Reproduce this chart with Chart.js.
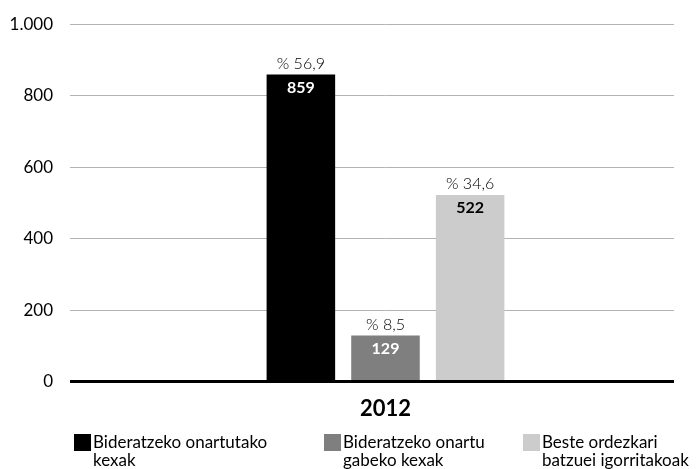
<!DOCTYPE html>
<html>
<head>
<meta charset="utf-8">
<script src="https://cdn.jsdelivr.net/npm/chart.js@4"></script>
<style>
    html, body { margin: 0; padding: 0; background: #fff; overflow: hidden; }
    #wrap { position: relative; width: 696px; height: 469px; }
    #chart { position: absolute; left: 0; top: -3px; }
    .legend-item { position: absolute; top: 434px; font-family: Lato, sans-serif; font-size: 17px; line-height: 18px; color: #000; }
    .legend-item .box { position: absolute; left: 0; top: 0; width: 17px; height: 17px; }
    .legend-item .txt { position: absolute; left: 19px; top: -1px; white-space: nowrap; }
</style>
</head>
<body>
<div id="wrap">
    <canvas id="chart" width="696" height="469"></canvas>
    <div id="legend"></div>
</div>
<script>
    // Datos del gráfico
    const categories = ['2012'];
    const seriesNames = [
        ['Bideratzeko onartutako', 'kexak'],
        ['Bideratzeko onartu', 'gabeko kexak'],
        ['Beste ordezkari', 'batzuei igorritakoak']
    ];
    const seriesValues = [859, 129, 522];
    const seriesPercents = ['% 56,9', '% 8,5', '% 34,6'];
    const seriesColors = ['#000000', '#7f7f7f', '#cccccc'];
    const innerTextColors = ['#ffffff', '#ffffff', '#000000'];
    const yTicks = [0, 200, 400, 600, 800, 1000];

    const legendX = [74, 324, 523];

    // Leyenda en HTML (textos en dos líneas)
    const legendEl = document.getElementById('legend');
    seriesNames.forEach((lines, i) => {
        const item = document.createElement('div');
        item.className = 'legend-item';
        item.style.left = legendX[i] + 'px';
        item.innerHTML = '<div class="box" style="background:' + seriesColors[i] + '"></div>' +
            '<div class="txt">' + lines.join('<br>') + '</div>';
        legendEl.appendChild(item);
    });

    // Etiquetas sobre y dentro de las barras
    const barLabels = {
        id: 'barLabels',
        afterDatasetsDraw(chart) {
            const ctx = chart.ctx;
            ctx.save();
            ctx.textAlign = 'center';
            chart.data.datasets.forEach((ds, i) => {
                const bar = chart.getDatasetMeta(i).data[0];
                if (!bar) return;
                ctx.font = '300 16px Lato, sans-serif';
                ctx.fillStyle = '#000';
                ctx.textBaseline = 'bottom';
                ctx.fillText(seriesPercents[i], bar.x, bar.y - 3);
                ctx.font = 'bold 16px Lato, sans-serif';
                ctx.fillStyle = innerTextColors[i];
                ctx.textBaseline = 'middle';
                ctx.fillText(String(ds.data[0]), bar.x, bar.y + 13);
            });
            ctx.restore();
        }
    };

    const fmt = v => v >= 1000 ? v.toLocaleString('de-DE') : String(v);

    new Chart(document.getElementById('chart'), {
        type: 'bar',
        data: {
            labels: categories,
            datasets: seriesValues.map((v, i) => ({
                label: seriesNames[i].join(' '),
                data: [v],
                backgroundColor: seriesColors[i],
                borderWidth: 0,
                barPercentage: 0.81,
                categoryPercentage: 0.44
            }))
        },
        options: {
            responsive: false,
            animation: false,
            layout: { padding: { top: 2, right: 22, bottom: 30, left: 0 } },
            plugins: {
                legend: { display: false },
                tooltip: { enabled: false }
            },
            scales: {
                x: {
                    grid: { display: false, drawTicks: false },
                    border: { display: false },
                    ticks: {
                        color: '#000',
                        padding: 14,
                        font: { family: 'Lato, sans-serif', size: 22, weight: 'bold' }
                    }
                },
                y: {
                    min: 0,
                    max: 1000,
                    afterBuildTicks: scale => {
                        scale.ticks = yTicks.map(v => ({ value: v }));
                    },
                    afterFit: scale => { scale.width = 97; },
                    border: { display: false },
                    grid: {
                        color: c => c.tick && c.tick.value === 0 ? '#000' : '#b3b3b3',
                        lineWidth: c => c.tick && c.tick.value === 0 ? 3 : 1,
                        tickLength: 27
                    },
                    ticks: {
                        color: '#000',
                        padding: 17,
                        font: { family: 'Lato, sans-serif', size: 17 },
                        callback: v => fmt(v)
                    }
                }
            }
        },
        plugins: [barLabels]
    });
</script>
</body>
</html>
